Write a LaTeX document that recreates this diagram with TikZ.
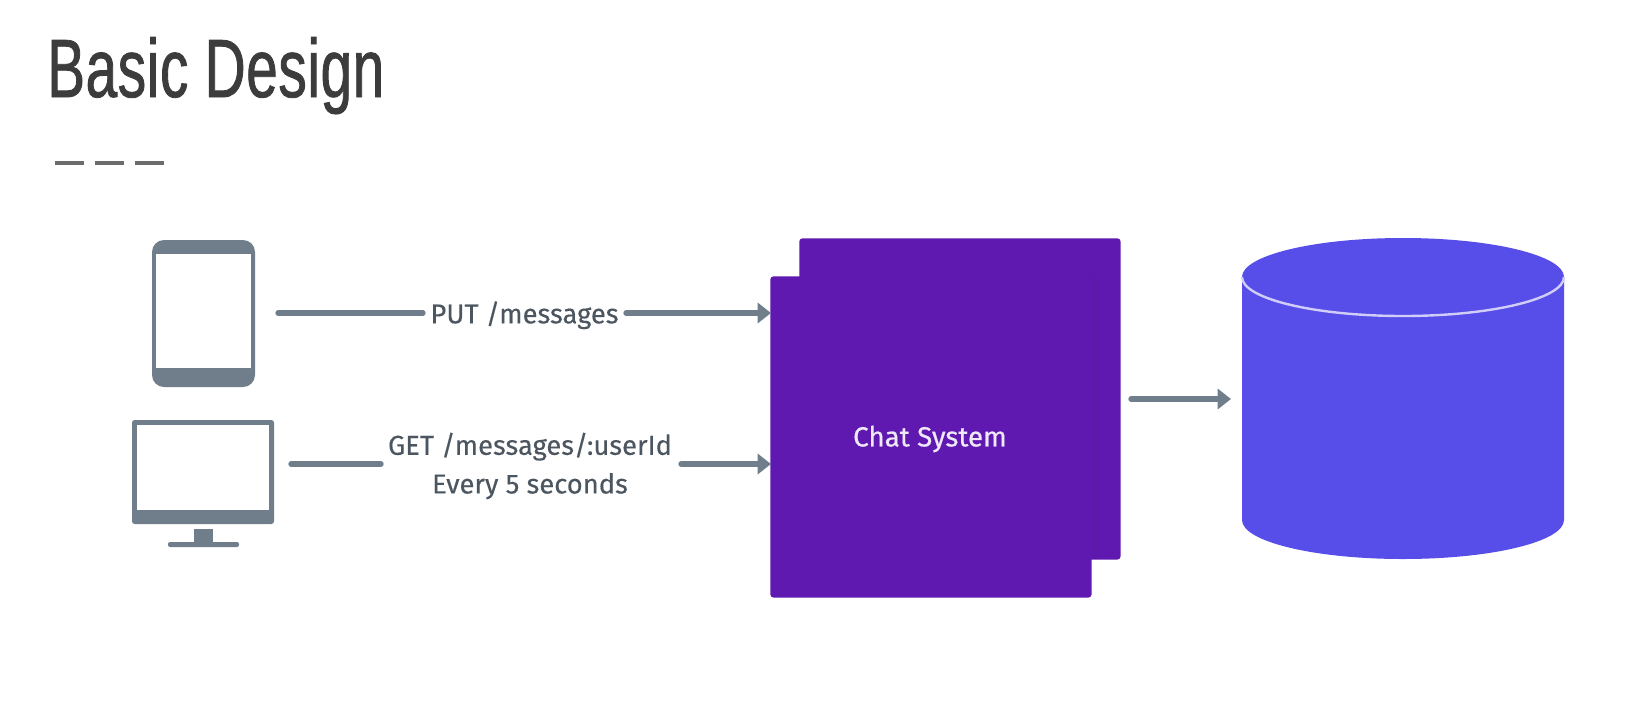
\documentclass[tikz,border=0pt]{standalone}
\usepackage{fontspec}
\usetikzlibrary{arrows.meta}
\setmainfont[FakeBold=0.25]{Fira Sans}
\newfontfamily\titlefont[FakeStretch=0.685,FakeBold=1.0,LetterSpace=0.8]{Liberation Sans}
\newfontfamily\chatfont[FakeBold=0.6]{Fira Sans}
\definecolor{slate}{HTML}{707D8A}
\definecolor{chat}{HTML}{5F19B0}
\definecolor{chatedge}{HTML}{5C19AC}
\definecolor{dbblue}{HTML}{574DE8}
\definecolor{ink}{HTML}{3C3C3C}
\definecolor{lbltext}{HTML}{4C5660}
\tikzset{
  px/.style={x=0.75pt,y=-0.75pt},
  link/.style={draw=slate,line width=4pt,line cap=round},
  arrowlink/.style={link,-{Triangle[length=10pt,width=15pt]}},
  lbl/.style={inner sep=0pt,font=\fontsize{20.5}{29}\selectfont,text=lbltext,align=center},
  square/.style={fill=chat,rounded corners=2.5pt,inner sep=0pt,minimum width=241pt,minimum height=241pt},
  anchorpt/.style={inner sep=0pt,minimum size=0pt}
}
\begin{document}
\begin{tikzpicture}[px]
\useasboundingbox (0,0) rectangle (1650,726);
\fill[white] (0,0) rectangle (1650,726);
\node[anchor=base west,inner sep=0pt,text=ink,font=\titlefont\fontsize{62}{64}\selectfont] (title) at (47,97) {Basic Design};
\coordinate (d1a) at (55,163);\coordinate (d1b) at (84,163);
\coordinate (d2a) at (95,163);\coordinate (d2b) at (124,163);
\coordinate (d3a) at (135,163);\coordinate (d3b) at (164,163);
\draw[draw=gray!85!black,line width=2.6pt] (d1a)--(d1b) (d2a)--(d2b) (d3a)--(d3b);
% tablet
\node[anchorpt] (tablet) at (203,313) {};
\fill[slate,rounded corners=9pt] (152,240) rectangle (255,387);
\fill[white] (156,254) rectangle (251,368);
% monitor
\node[anchorpt] (monitor) at (203,470) {};
\fill[slate,rounded corners=2pt] (132,420) rectangle (274,524);
\fill[white] (137,425) rectangle (269,510);
\fill[slate] (194,529) rectangle (213,543);
\fill[slate,rounded corners=1.5pt] (168,542) rectangle (239,547);
% squares
\node[square,anchor=north west] (back) at (799,238) {};
\fill[chatedge] (1091,276) rectangle (1099,559);
\node[square,anchor=north west] (front) at (770,276) {};
\node[text=white!90!chat,inner sep=0pt,font=\chatfont\fontsize{20.8}{24}\selectfont] (chatlbl) at (930,439) {Chat System};
% cylinder
\node[anchorpt,minimum width=322pt] (db) at (1403,398) {};
\fill[dbblue] (1242,277) -- (1242,520) arc[start angle=180,end angle=0,x radius=161,y radius=39] -- (1564,277) arc[start angle=0,end angle=-180,x radius=161,y radius=39] -- cycle;
\draw[draw=white!72!dbblue,line width=1.8pt] (1242,277) arc[start angle=180,end angle=0,x radius=161,y radius=39];
% labels and connectors
\node[lbl,text depth=0pt,text height=14pt] (put) at (524.5,314) {PUT /messages};
\node[lbl] (get) at (530,466) {GET /messages/:userId\\Every 5 seconds};
\coordinate (s1) at (278,313);\coordinate (s2) at (291,464);
\coordinate (p1) at (423,313);\coordinate (p2) at (626,313);
\coordinate (g1) at (381,464);\coordinate (g2) at (681,464);
\coordinate (e1) at (771,313);\coordinate (e2) at (771,464);
\draw[link] (s1) -- (p1);
\draw[arrowlink] (p2) -- (e1);
\draw[link] (s2) -- (g1);
\draw[arrowlink] (g2) -- (e2);
\coordinate (s3) at (1131,399);\coordinate (e3) at (1231,399);
\draw[arrowlink] (s3) -- (e3);
\end{tikzpicture}
\end{document}
